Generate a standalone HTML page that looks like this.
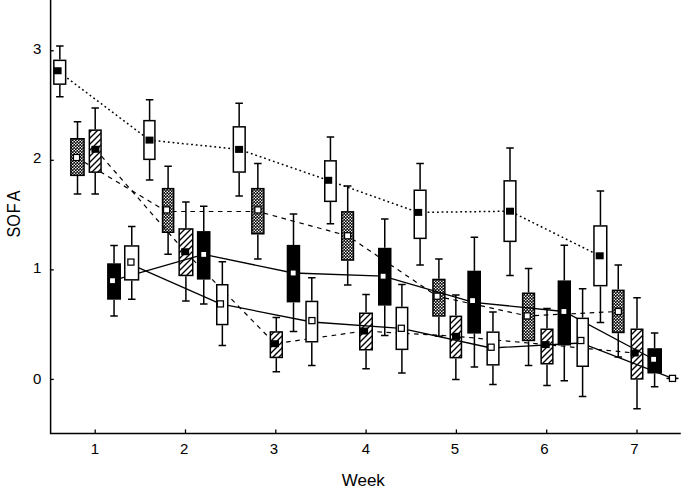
<!DOCTYPE html>
<html><head><meta charset="utf-8"><style>
html,body{margin:0;padding:0;background:#fff;}
svg{display:block;}
text{font-family:"Liberation Sans",sans-serif;font-size:15px;fill:#000;}
.sofa text{font-size:17.5px;}
</style></head><body>
<svg width="685" height="494" viewBox="0 0 685 494">
<defs>
<pattern id="xh" patternUnits="userSpaceOnUse" width="3" height="3">
<rect width="3" height="3" fill="#000"/><circle cx="0.75" cy="0.75" r="0.8" fill="#fff"/><circle cx="2.25" cy="2.25" r="0.8" fill="#fff"/>
</pattern>
<pattern id="hat" patternUnits="userSpaceOnUse" width="6" height="6">
<rect width="6" height="6" fill="#fff"/>
<path d="M-1.5 1.5 L1.5 -1.5 M0 6 L6 0 M4.5 7.5 L7.5 4.5" stroke="#000" stroke-width="1.35"/>
</pattern>
</defs>
<rect width="685" height="494" fill="#fff"/>
<path d="M59.85 72.5 L149.5 140.1 L239.1 149.4 L328.2 180.3 L418.2 212.4 L510 211.2 L599.7 255.8" fill="none" stroke="#000" stroke-width="1.5" stroke-dasharray="1.8 2.87"/>
<path d="M59.85 45.9 V59.6 M59.85 84.9 V96.8 M56.1 45.9 h7.5 M56.1 96.8 h7.5" stroke="#000" stroke-width="1.5" fill="none"/><rect x="53.85" y="60.35" width="11.8" height="23.8" fill="#fff" stroke="#000" stroke-width="1.5"/><rect x="53.6" y="67.25" width="8" height="7" fill="#000"/>
<path d="M149.6 99.8 V119.9 M149.6 160.1 V180.1 M145.85 99.8 h7.5 M145.85 180.1 h7.5" stroke="#000" stroke-width="1.5" fill="none"/><rect x="143.95" y="120.65" width="10.95" height="38.7" fill="#fff" stroke="#000" stroke-width="1.5"/><rect x="145.5" y="136.6" width="8" height="7" fill="#000"/>
<path d="M239.15 103.3 V126.1 M239.15 172.8 V195.9 M235.4 103.3 h7.5 M235.4 195.9 h7.5" stroke="#000" stroke-width="1.5" fill="none"/><rect x="233.35" y="126.85" width="11.8" height="45.2" fill="#fff" stroke="#000" stroke-width="1.5"/><rect x="235.1" y="145.9" width="8" height="7" fill="#000"/>
<path d="M330.45 137 V160.1 M330.45 202.1 V223.8 M326.7 137 h7.5 M326.7 223.8 h7.5" stroke="#000" stroke-width="1.5" fill="none"/><rect x="324.75" y="160.85" width="11.4" height="40.5" fill="#fff" stroke="#000" stroke-width="1.5"/><rect x="324.2" y="176.8" width="8" height="7" fill="#000"/>
<path d="M420.1 163.6 V189.5 M420.1 239.1 V265.1 M416.35 163.6 h7.5 M416.35 265.1 h7.5" stroke="#000" stroke-width="1.5" fill="none"/><rect x="414.25" y="190.25" width="11.7" height="48.1" fill="#fff" stroke="#000" stroke-width="1.5"/><rect x="414.2" y="208.9" width="8" height="7" fill="#000"/>
<path d="M510 148 V180.1 M510 242.1 V275.5 M506.25 148 h7.5 M506.25 275.5 h7.5" stroke="#000" stroke-width="1.5" fill="none"/><rect x="504.15" y="180.85" width="11.7" height="60.5" fill="#fff" stroke="#000" stroke-width="1.5"/><rect x="506" y="207.7" width="8" height="7" fill="#000"/>
<path d="M600.45 191.1 V225.2 M600.45 286.4 V322.5 M596.7 191.1 h7.5 M596.7 322.5 h7.5" stroke="#000" stroke-width="1.5" fill="none"/><rect x="593.95" y="225.95" width="12.8" height="59.7" fill="#fff" stroke="#000" stroke-width="1.5"/><rect x="595.7" y="252.3" width="8" height="7" fill="#000"/>
<path d="M76.5 157.5 L166.6 211.5 L257.9 211.5 L347.6 235.8 L437.1 296.2 L527.2 315.9 L618.3 311.5" fill="none" stroke="#000" stroke-width="1.2" stroke-dasharray="4.6 4.6"/>
<path d="M77.5 121.7 V138 M77.5 176.1 V194.1 M73.75 121.7 h7.5 M73.75 194.1 h7.5" stroke="#000" stroke-width="1.5" fill="none"/><rect x="70.85" y="138.75" width="13.2" height="36.6" fill="url(#xh)" stroke="#000" stroke-width="1.5"/><rect x="73.45" y="154.45" width="6.1" height="6.1" fill="#fff" stroke="#000" stroke-width="1.25"/>
<path d="M168.1 166.3 V187.9 M168.1 233 V254.2 M164.35 166.3 h7.5 M164.35 254.2 h7.5" stroke="#000" stroke-width="1.5" fill="none"/><rect x="162.55" y="188.65" width="11.1" height="43.6" fill="url(#xh)" stroke="#000" stroke-width="1.5"/><rect x="163.55" y="206.85" width="6.1" height="6.1" fill="#fff" stroke="#000" stroke-width="1.25"/>
<path d="M257.85 163.5 V187.9 M257.85 234.5 V258.9 M254.1 163.5 h7.5 M254.1 258.9 h7.5" stroke="#000" stroke-width="1.5" fill="none"/><rect x="251.85" y="188.65" width="12" height="45.1" fill="url(#xh)" stroke="#000" stroke-width="1.5"/><rect x="254.85" y="206.85" width="6.1" height="6.1" fill="#fff" stroke="#000" stroke-width="1.25"/>
<path d="M347.7 186.1 V211.1 M347.7 260.8 V285.1 M343.95 186.1 h7.5 M343.95 285.1 h7.5" stroke="#000" stroke-width="1.5" fill="none"/><rect x="341.75" y="211.85" width="11.7" height="48.2" fill="url(#xh)" stroke="#000" stroke-width="1.5"/><rect x="344.55" y="232.75" width="6.1" height="6.1" fill="#fff" stroke="#000" stroke-width="1.25"/>
<path d="M438.9 259 V278.7 M438.9 316.7 V336.3 M435.15 259 h7.5 M435.15 336.3 h7.5" stroke="#000" stroke-width="1.5" fill="none"/><rect x="432.95" y="279.45" width="11.9" height="36.5" fill="url(#xh)" stroke="#000" stroke-width="1.5"/><rect x="434.05" y="293.15" width="6.1" height="6.1" fill="#fff" stroke="#000" stroke-width="1.25"/>
<path d="M528.55 268.5 V292.5 M528.55 341.2 V365.5 M524.8 268.5 h7.5 M524.8 365.5 h7.5" stroke="#000" stroke-width="1.5" fill="none"/><rect x="522.65" y="293.25" width="11.8" height="47.2" fill="url(#xh)" stroke="#000" stroke-width="1.5"/><rect x="524.15" y="312.85" width="6.1" height="6.1" fill="#fff" stroke="#000" stroke-width="1.25"/>
<path d="M618.25 265 V289.6 M618.25 333.2 V357 M614.5 265 h7.5 M614.5 357 h7.5" stroke="#000" stroke-width="1.5" fill="none"/><rect x="612.55" y="290.35" width="11.4" height="42.1" fill="url(#xh)" stroke="#000" stroke-width="1.5"/><rect x="615.25" y="308.45" width="6.1" height="6.1" fill="#fff" stroke="#000" stroke-width="1.25"/>
<path d="M95.4 149.3 L185.2 251.75 L275 343.7 L364.1 331 L456 336.3 L545.7 344.6 L634.7 353" fill="none" stroke="#000" stroke-width="1.2" stroke-dasharray="4.6 4.6"/>
<path d="M95.2 108.1 V129.4 M95.2 172.9 V194.1 M91.45 108.1 h7.5 M91.45 194.1 h7.5" stroke="#000" stroke-width="1.5" fill="none"/><rect x="89.35" y="130.15" width="11.7" height="42" fill="url(#hat)" stroke="#000" stroke-width="1.5"/><rect x="91.4" y="145.8" width="8" height="7" fill="#000"/>
<path d="M185.9 202 V228.2 M185.9 276.2 V301 M182.15 202 h7.5 M182.15 301 h7.5" stroke="#000" stroke-width="1.5" fill="none"/><rect x="179.15" y="228.95" width="13.6" height="46.5" fill="url(#hat)" stroke="#000" stroke-width="1.5"/><rect x="181.2" y="248.25" width="8" height="7" fill="#000"/>
<path d="M276.3 317.5 V331.2 M276.3 358.2 V371.7 M272.55 317.5 h7.5 M272.55 371.7 h7.5" stroke="#000" stroke-width="1.5" fill="none"/><rect x="270.35" y="331.95" width="11.9" height="25.5" fill="url(#hat)" stroke="#000" stroke-width="1.5"/><rect x="271" y="340.2" width="8" height="7" fill="#000"/>
<path d="M366.05 294.6 V312.5 M366.05 350.5 V368.8 M362.3 294.6 h7.5 M362.3 368.8 h7.5" stroke="#000" stroke-width="1.5" fill="none"/><rect x="359.75" y="313.25" width="12.5" height="36.5" fill="url(#hat)" stroke="#000" stroke-width="1.5"/><rect x="360.1" y="327.5" width="8" height="7" fill="#000"/>
<path d="M455.85 295 V315.6 M455.85 358.4 V379.5 M452.1 295 h7.5 M452.1 379.5 h7.5" stroke="#000" stroke-width="1.5" fill="none"/><rect x="450.25" y="316.35" width="11.2" height="41.3" fill="url(#hat)" stroke="#000" stroke-width="1.5"/><rect x="452" y="332.8" width="8" height="7" fill="#000"/>
<path d="M547 308.6 V328.5 M547 364.5 V385.6 M543.25 308.6 h7.5 M543.25 385.6 h7.5" stroke="#000" stroke-width="1.5" fill="none"/><rect x="541.15" y="329.25" width="11.7" height="34.5" fill="url(#hat)" stroke="#000" stroke-width="1.5"/><rect x="541.7" y="341.1" width="8" height="7" fill="#000"/>
<path d="M637 297.7 V328.5 M637 379.7 V408.7 M633.25 297.7 h7.5 M633.25 408.7 h7.5" stroke="#000" stroke-width="1.5" fill="none"/><rect x="631.25" y="329.25" width="11.5" height="49.7" fill="url(#hat)" stroke="#000" stroke-width="1.5"/><rect x="630.7" y="349.5" width="8" height="7" fill="#000"/>
<path d="M112.5 280.7 L203.7 254.4 L293.2 273 L383.1 276.2 L473.5 302.3 L563.9 311.5 L653.6 359.3" fill="none" stroke="#000" stroke-width="1.3"/>
<path d="M114.05 245.5 V263.3 M114.05 299.7 V316 M110.3 245.5 h7.5 M110.3 316 h7.5" stroke="#000" stroke-width="1.5" fill="none"/><rect x="107.85" y="264.05" width="12.4" height="34.9" fill="#000" stroke="#000" stroke-width="1.5"/><rect x="109.45" y="277.65" width="6.1" height="6.1" fill="#fff" stroke="#000" stroke-width="1.25"/>
<path d="M203.75 206.3 V231.1 M203.75 279.6 V304 M200 206.3 h7.5 M200 304 h7.5" stroke="#000" stroke-width="1.5" fill="none"/><rect x="197.65" y="231.85" width="12.1" height="47" fill="#000" stroke="#000" stroke-width="1.5"/><rect x="200.65" y="251.35" width="6.1" height="6.1" fill="#fff" stroke="#000" stroke-width="1.25"/>
<path d="M293.5 214 V244.9 M293.5 302.4 V331.5 M289.75 214 h7.5 M289.75 331.5 h7.5" stroke="#000" stroke-width="1.5" fill="none"/><rect x="287.45" y="245.65" width="12" height="56" fill="#000" stroke="#000" stroke-width="1.5"/><rect x="290.15" y="269.95" width="6.1" height="6.1" fill="#fff" stroke="#000" stroke-width="1.25"/>
<path d="M384.75 219 V247.8 M384.75 305.6 V335.5 M381 219 h7.5 M381 335.5 h7.5" stroke="#000" stroke-width="1.5" fill="none"/><rect x="378.75" y="248.55" width="12" height="56.3" fill="#000" stroke="#000" stroke-width="1.5"/><rect x="380.05" y="273.15" width="6.1" height="6.1" fill="#fff" stroke="#000" stroke-width="1.25"/>
<path d="M474.4 237.2 V270.7 M474.4 333.6 V367 M470.65 237.2 h7.5 M470.65 367 h7.5" stroke="#000" stroke-width="1.5" fill="none"/><rect x="468.05" y="271.45" width="12.2" height="61.4" fill="#000" stroke="#000" stroke-width="1.5"/><rect x="469.5" y="297.55" width="6.1" height="6.1" fill="#fff" stroke="#000" stroke-width="1.25"/>
<path d="M564.3 245.3 V280.4 M564.3 345.5 V380.7 M560.55 245.3 h7.5 M560.55 380.7 h7.5" stroke="#000" stroke-width="1.5" fill="none"/><rect x="558.35" y="281.15" width="11.9" height="63.6" fill="#000" stroke="#000" stroke-width="1.5"/><rect x="560.85" y="308.45" width="6.1" height="6.1" fill="#fff" stroke="#000" stroke-width="1.25"/>
<path d="M654.6 333.1 V348.2 M654.6 373.5 V386.8 M650.85 333.1 h7.5 M650.85 386.8 h7.5" stroke="#000" stroke-width="1.5" fill="none"/><rect x="648.15" y="348.95" width="13.1" height="23.8" fill="#000" stroke="#000" stroke-width="1.5"/><rect x="650.55" y="356.25" width="6.1" height="6.1" fill="#fff" stroke="#000" stroke-width="1.25"/>
<path d="M130.9 264.3 L220.4 303.9 L311.9 322 L401.3 328.3 L491.1 348 L580.8 343 L672.5 378.4" fill="none" stroke="#000" stroke-width="1.3"/>
<path d="M131.75 226.6 V245.2 M131.75 280.6 V299.3 M128 226.6 h7.5 M128 299.3 h7.5" stroke="#000" stroke-width="1.5" fill="none"/><rect x="124.75" y="245.95" width="13.8" height="33.9" fill="#fff" stroke="#000" stroke-width="1.5"/><rect x="127.85" y="259.05" width="6.1" height="6.1" fill="#fff" stroke="#000" stroke-width="1.25"/>
<path d="M222.35 261.7 V284 M222.35 325.3 V345.5 M218.6 261.7 h7.5 M218.6 345.5 h7.5" stroke="#000" stroke-width="1.5" fill="none"/><rect x="216.75" y="284.75" width="11" height="39.8" fill="#fff" stroke="#000" stroke-width="1.5"/><rect x="217.35" y="300.85" width="6.1" height="6.1" fill="#fff" stroke="#000" stroke-width="1.25"/>
<path d="M311.8 277.8 V300.7 M311.8 342.5 V365.6 M308.05 277.8 h7.5 M308.05 365.6 h7.5" stroke="#000" stroke-width="1.5" fill="none"/><rect x="306.05" y="301.45" width="11.5" height="40.3" fill="#fff" stroke="#000" stroke-width="1.5"/><rect x="308.85" y="317.55" width="6.1" height="6.1" fill="#fff" stroke="#000" stroke-width="1.25"/>
<path d="M401.9 284.5 V306.7 M401.9 350.1 V373.1 M398.15 284.5 h7.5 M398.15 373.1 h7.5" stroke="#000" stroke-width="1.5" fill="none"/><rect x="396.25" y="307.45" width="11.4" height="41.9" fill="#fff" stroke="#000" stroke-width="1.5"/><rect x="398.25" y="325.25" width="6.1" height="6.1" fill="#fff" stroke="#000" stroke-width="1.25"/>
<path d="M492.95 312 V331.4 M492.95 365.6 V384.4 M489.2 312 h7.5 M489.2 384.4 h7.5" stroke="#000" stroke-width="1.5" fill="none"/><rect x="487.15" y="332.15" width="11.7" height="32.7" fill="#fff" stroke="#000" stroke-width="1.5"/><rect x="488.05" y="344.15" width="6.1" height="6.1" fill="#fff" stroke="#000" stroke-width="1.25"/>
<path d="M582.6 288.7 V317.6 M582.6 367 V396.4 M578.85 288.7 h7.5 M578.85 396.4 h7.5" stroke="#000" stroke-width="1.5" fill="none"/><rect x="577.15" y="318.35" width="11.1" height="47.9" fill="#fff" stroke="#000" stroke-width="1.5"/><rect x="577.75" y="337.45" width="6.1" height="6.1" fill="#fff" stroke="#000" stroke-width="1.25"/>
<path d="M672.5 378.4 V378.4 M672.5 378.4 V378.4 M668.75 378.4 h7.5 M668.75 378.4 h7.5" stroke="#000" stroke-width="1.5" fill="none"/><path d="M666.5 378.4 H678.5" stroke="#000" stroke-width="1.5"/><rect x="669.45" y="375.35" width="6.1" height="6.1" fill="#fff" stroke="#000" stroke-width="1.25"/>
<path d="M50.6 0 V433.5 H680.8" fill="none" stroke="#000" stroke-width="1.5"/>
<path d="M50 379.4 h3.8" stroke="#000" stroke-width="1.3"/><text x="41.3" y="383.5" text-anchor="end">0</text><path d="M50 269.85 h3.8" stroke="#000" stroke-width="1.3"/><text x="41.3" y="273.1" text-anchor="end">1</text><path d="M50 160.3 h3.8" stroke="#000" stroke-width="1.3"/><text x="41.3" y="163.3" text-anchor="end">2</text><path d="M50 50.75 h3.8" stroke="#000" stroke-width="1.3"/><text x="41.3" y="53.9" text-anchor="end">3</text>
<path d="M95.2 433 v-3.6" stroke="#000" stroke-width="1.3"/><text x="94.9" y="454" text-anchor="middle">1</text><path d="M185.5 433 v-3.6" stroke="#000" stroke-width="1.3"/><text x="184.1" y="454" text-anchor="middle">2</text><path d="M275.8 433 v-3.6" stroke="#000" stroke-width="1.3"/><text x="273.9" y="454" text-anchor="middle">3</text><path d="M366.1 433 v-3.6" stroke="#000" stroke-width="1.3"/><text x="365.9" y="454" text-anchor="middle">4</text><path d="M456.4 433 v-3.6" stroke="#000" stroke-width="1.3"/><text x="454.9" y="454" text-anchor="middle">5</text><path d="M546.7 433 v-3.6" stroke="#000" stroke-width="1.3"/><text x="544.5" y="454" text-anchor="middle">6</text><path d="M637 433 v-3.6" stroke="#000" stroke-width="1.3"/><text x="634.3" y="454" text-anchor="middle">7</text>
<text x="363.3" y="485.5" text-anchor="middle" style="font-size:17px">Week</text>
<g class="sofa"><text transform="translate(20.1 232.1) rotate(-90) scale(0.92 1)" text-anchor="middle">S</text><text transform="translate(20.1 220.55) rotate(-90) scale(0.92 1)" text-anchor="middle">O</text><text transform="translate(20.1 208.3) rotate(-90) scale(0.92 1)" text-anchor="middle">F</text><text transform="translate(20.1 195.95) rotate(-90) scale(0.92 1)" text-anchor="middle">A</text></g>
</svg>
</body></html>
